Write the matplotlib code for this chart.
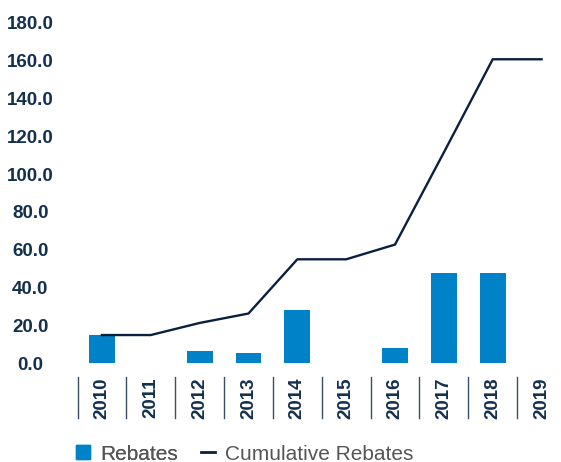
import matplotlib
matplotlib.use("Agg")
import matplotlib.pyplot as plt
import matplotlib.transforms as mtransforms
from matplotlib.lines import Line2D

years = ["2010", "2011", "2012", "2013", "2014", "2015", "2016", "2017", "2018", "2019"]
rebates = [14.8, 0, 6.2, 5.2, 28.0, 0, 7.8, 47.6, 47.6, 0]
cumulative = [14.8, 14.8, 21.2, 26.2, 54.9, 54.9, 62.7, 111.5, 160.8, 160.8]
yticks = [0, 20, 40, 60, 80, 100, 120, 140, 160, 180]

BLUE = "#0082C8"
NAVY = "#0B1F3F"
LABEL = "#14304F"
GRAY = "#555555"

plt.rcParams["font.family"] = ["Liberation Sans", "DejaVu Sans"]

W, H = 561, 462
fig = plt.figure(figsize=(W / 100, H / 100), dpi=100)
# axes in pixel terms: x from 77.5 to 566, y from 363 (zero) to 23 (180)
ax = fig.add_axes([77.5 / W, (H - 363) / H, (566 - 77.5) / W, (363 - 23) / H])

x = list(range(len(years)))
ax.bar(x, rebates, width=0.53, color=BLUE, zorder=2)
ax.plot(x, cumulative, color=NAVY, lw=1.7, zorder=3)

ax.set_xlim(-0.5, len(years) - 0.5)
ax.set_ylim(0, 180)
ax.set_yticks(yticks)
ax.set_yticklabels([f"{v:.1f}" for v in yticks], fontsize=13.5, fontweight="bold",
                   color=LABEL, ha="center")
ax.set_xticks(x)
ax.set_xticklabels(years, rotation=90, fontsize=13.5, fontweight="bold", color=LABEL, va="top")
ax.tick_params(axis="y", length=0, pad=34)
ax.tick_params(axis="x", length=0, pad=10.5)
for s in ax.spines.values():
    s.set_visible(False)

# category separators below the axis
trans = mtransforms.blended_transform_factory(ax.transData, ax.transAxes)
y0 = (363 - 377) / 340
y1 = (363 - 418) / 340
for i in range(len(years)):
    ax.plot([i - 0.5, i - 0.5], [y0, y1], color="#3A4E6A", lw=1.0, transform=trans, clip_on=False)

leg_kw = dict(loc="center left", frameon=False, fontsize=15, labelcolor=GRAY,
              handlelength=0.68, handletextpad=0.5, borderaxespad=0, borderpad=0)
leg1 = fig.legend([Line2D([], [], marker="s", linestyle="none", color=BLUE, markersize=9.5)],
                  ["Rebates"], bbox_to_anchor=(75.5 / W, 1 - 454 / H), **leg_kw)
fig.add_artist(leg1)
fig.legend([Line2D([], [], color=NAVY, lw=2.0)], ["Cumulative Rebates"],
           bbox_to_anchor=(200.5 / W, 1 - 454 / H), **leg_kw)

fig.savefig("out.png", dpi=100)
